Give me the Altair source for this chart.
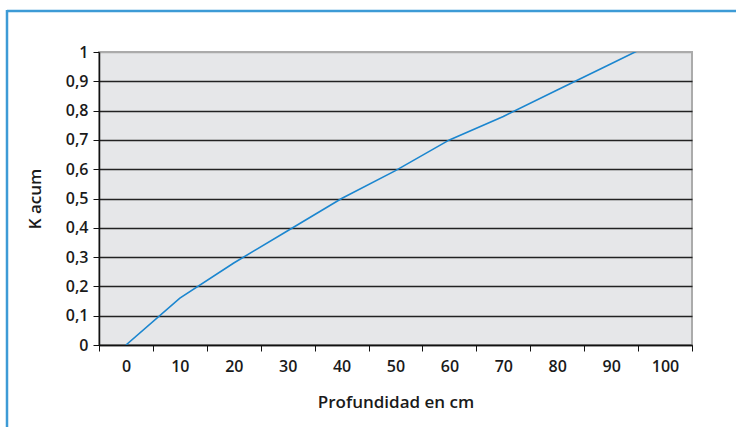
import altair as alt
import pandas as pd

# Cumulative K by soil depth
depth_cm = ["0", "10", "20", "30", "40", "50", "60", "70", "80", "90", "100"]
k_acum = [0.0, 0.16, 0.28, 0.39, 0.50, 0.595, 0.70, 0.78, 0.87, 0.96, 1.05]
y_ticks = [0, 0.1, 0.2, 0.3, 0.4, 0.5, 0.6, 0.7, 0.8, 0.9, 1.0]

df = pd.DataFrame({"depth": depth_cm, "k": k_acum})

FONT = "Open Sans"
FRAME = "#3d9bd6"
LINE = "#1b86cf"
INK = "#1a1a1a"

x_enc = alt.X(
    "depth:O",
    sort=depth_cm,
    bandPosition=0.5,
    scale=alt.Scale(type="band", paddingInner=0, paddingOuter=0),
    axis=alt.Axis(
        title="Profundidad en cm",
        labelAngle=0,
        tickBand="extent",
        tickSize=6,
        tickColor="#111111",
        domainColor="#111111",
        domainWidth=1.5,
        labelFontSize=16,
        labelFont=FONT,
        labelFontWeight=600,
        labelColor=INK,
        labelPadding=7,
        titleFont=FONT,
        titleFontSize=17,
        titleFontWeight=600,
        titleColor=INK,
        titlePadding=20,
        grid=False,
    ),
)

y_enc = alt.Y(
    "k:Q",
    scale=alt.Scale(domain=[0, 1], nice=False, zero=True),
    axis=alt.Axis(
        title="K acum",
        values=y_ticks,
        labelExpr="replace(format(datum.value, '.1~f'), '.', ',')",
        tickSize=6,
        tickColor="#111111",
        domainColor="#111111",
        domainWidth=1.5,
        labelFontSize=16,
        labelFont=FONT,
        labelFontWeight=600,
        labelColor=INK,
        labelPadding=5,
        titleFont=FONT,
        titleFontSize=17,
        titleFontWeight=600,
        titleColor=INK,
        titlePadding=21,
        grid=True,
        gridColor={
            "condition": {"test": "datum.value === 1", "value": "#ababab"},
            "value": "#222222",
        },
        gridWidth=1.3,
    ),
)

line = alt.Chart(df).mark_line(color=LINE, strokeWidth=1.6, clip=True).encode(
    x=x_enc, y=y_enc
)

# Blue frame around the figure (top and left edges)
one = pd.DataFrame({"a": [0]})
frame_top = alt.Chart(one).mark_rule(color=FRAME, strokeWidth=2.5).encode(
    x=alt.value(-92), x2=alt.value(660), y=alt.value(-41)
)
frame_left = alt.Chart(one).mark_rule(color=FRAME, strokeWidth=2.5).encode(
    x=alt.value(-92), y=alt.value(-42), y2=alt.value(400)
)

chart = (
    alt.layer(line, frame_top, frame_left)
    .properties(
        width=593,
        height=293,
        autosize=alt.AutoSizeParams(type="none"),
        padding={"left": 99, "top": 52, "right": 44, "bottom": 82},
        background="white",
    )
    .configure_view(fill="#e6e7e9", stroke="#ababab", strokeWidth=2)
)

chart.save("out.html", embed_options={"renderer": "svg", "actions": False})
